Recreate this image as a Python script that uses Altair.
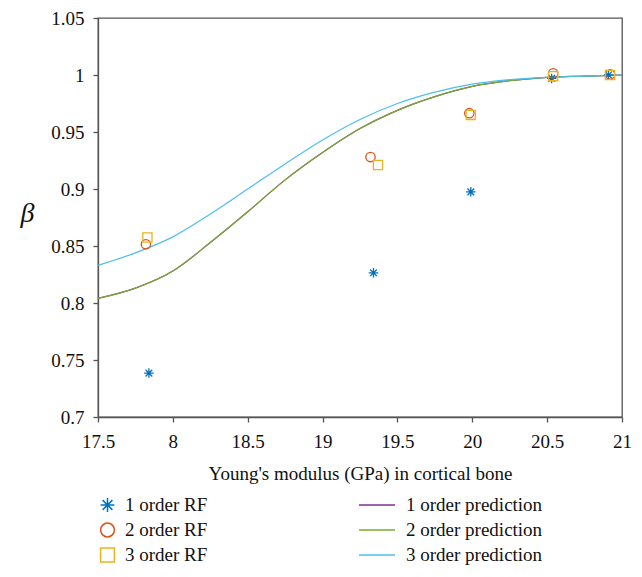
import altair as alt
import pandas as pd

# RF data
rf_series = ["1 order RF", "2 order RF", "3 order RF"]
rf1_x = [17.84, 19.34, 19.99, 20.53, 20.91]
rf1_y = [0.7385, 0.8265, 0.8975, 0.9970, 1.0000]
rf2_x = [17.82, 19.32, 19.98, 20.54, 20.92]
rf2_y = [0.8515, 0.9280, 0.9665, 1.0015, 1.0005]
rf3_x = [17.83, 19.37, 19.99, 20.54, 20.92]
rf3_y = [0.8575, 0.9210, 0.9650, 0.9990, 1.0000]

# prediction curves
pred_series = ["1 order prediction", "2 order prediction", "3 order prediction"]
pred_x = [17.5, 17.75, 18.0, 18.25, 18.5, 18.75, 19.0, 19.25, 19.5, 19.75, 20.0, 20.25, 20.5, 20.75, 21.0]
pred1_y = [0.804, 0.813, 0.828, 0.853, 0.880, 0.908, 0.932, 0.953, 0.969, 0.981, 0.990, 0.995, 0.998, 0.999, 1.0]
pred2_y = [0.804, 0.813, 0.828, 0.853, 0.880, 0.908, 0.932, 0.953, 0.969, 0.981, 0.990, 0.995, 0.998, 0.999, 1.0]
pred3_y = [0.833, 0.844, 0.858, 0.878, 0.900, 0.922, 0.943, 0.961, 0.975, 0.985, 0.992, 0.996, 0.998, 0.999, 1.0]

x_ticks = [17.5, 18.0, 18.5, 19.0, 19.5, 20.0, 20.5, 21.0]
y_ticks = [0.7, 0.75, 0.8, 0.85, 0.9, 0.95, 1.0, 1.05]

rf_colors = ["#0072BD", "#D95319", "#EDB120"]
pred_colors = ["#7E2F8E", "#77AC30", "#4DBEEE"]
asterisk = "M-1,0L1,0M0,-1L0,1M-0.71,-0.71L0.71,0.71M-0.71,0.71L0.71,-0.71"

rows = []
for s, xs, ys in zip(rf_series, [rf1_x, rf2_x, rf3_x], [rf1_y, rf2_y, rf3_y]):
    for a, b in zip(xs, ys):
        rows.append({"x": a, "y": b, "series": s})
pts = pd.DataFrame(rows)

rows = []
for s, ys in zip(pred_series, [pred1_y, pred2_y, pred3_y]):
    for a, b in zip(pred_x, ys):
        rows.append({"x": a, "y": b, "pseries": s})
lines_df = pd.DataFrame(rows)

FONT = "Liberation Serif"

xenc = alt.X("x:Q", scale=alt.Scale(domain=[17.5, 21], nice=False, zero=False),
             axis=alt.Axis(values=x_ticks, title="Young's modulus (GPa) in cortical bone",
                           labelExpr="datum.value == 18 ? '8' : format(datum.value, '~g')",
                           labelFlush=False, labelFont=FONT, titleFont=FONT,
                           grid=False, tickSize=5, labelPadding=10, titlePadding=13))
yenc = alt.Y("y:Q", scale=alt.Scale(domain=[0.7, 1.05], nice=False, zero=False),
             axis=alt.Axis(values=y_ticks, title="β", labelExpr="format(datum.value, '~g')",
                           labelFlush=False, labelFont=FONT, titleFont=FONT,
                           grid=False, tickSize=5, labelPadding=9,
                           titleAngle=0, titleX=-71, titleY=195, titleAlign="center",
                           titleBaseline="middle", titleFontSize=28, titleFontStyle="italic",
                           titleFontWeight="normal"))

leg1 = alt.Legend(title=None, orient="none", legendX=0, legendY=477, symbolSize=190,
                  symbolStrokeWidth=1.5, labelFontSize=19, labelFont=FONT, rowPadding=5,
                  clipHeight=20, labelOffset=8, labelColor="#111")
lines = alt.Chart(lines_df).mark_line(strokeWidth=1.2, interpolate="monotone").encode(
    x=xenc, y=yenc,
    color=alt.Color("pseries:N", scale=alt.Scale(domain=pred_series, range=pred_colors),
                    legend=alt.Legend(title=None, orient="none", legendX=260, legendY=477,
                                      symbolType="stroke", symbolSize=1300, symbolStrokeWidth=1.5,
                                      labelFontSize=19, labelFont=FONT, rowPadding=5,
                                      clipHeight=20, labelOffset=10, labelColor="#111")),
)
points = alt.Chart(pts).mark_point(filled=False, strokeWidth=1.3, opacity=1).encode(
    x=xenc, y=yenc,
    color=alt.Color("series:N", scale=alt.Scale(domain=rf_series, range=rf_colors), legend=leg1),
    shape=alt.Shape("series:N", scale=alt.Scale(domain=rf_series, range=[asterisk, "circle", "square"]), legend=leg1),
    size=alt.Size("series:N", scale=alt.Scale(domain=rf_series, range=[90, 85, 60]), legend=None),
)

chart = alt.layer(lines, points).resolve_scale(color="independent", shape="independent").properties(
    width=524, height=399,
    autosize=alt.AutoSizeParams(type="none"),
    padding={"left": 90, "top": 10, "right": 10, "bottom": 150},
).configure(
    font=FONT,
    style={"guide-label": {"font": FONT}, "guide-title": {"font": FONT}},
).configure_view(stroke="#555", strokeWidth=1.3).configure_axis(
    domainColor="#555", domainWidth=1.3, tickColor="#555", tickWidth=1.3,
    labelFont=FONT, titleFont=FONT, labelFontSize=19, titleFontSize=19,
    labelColor="#111", titleColor="#111", titleFontWeight="normal",
)

chart.save("out.html", embed_options={"renderer": "svg", "actions": False})
